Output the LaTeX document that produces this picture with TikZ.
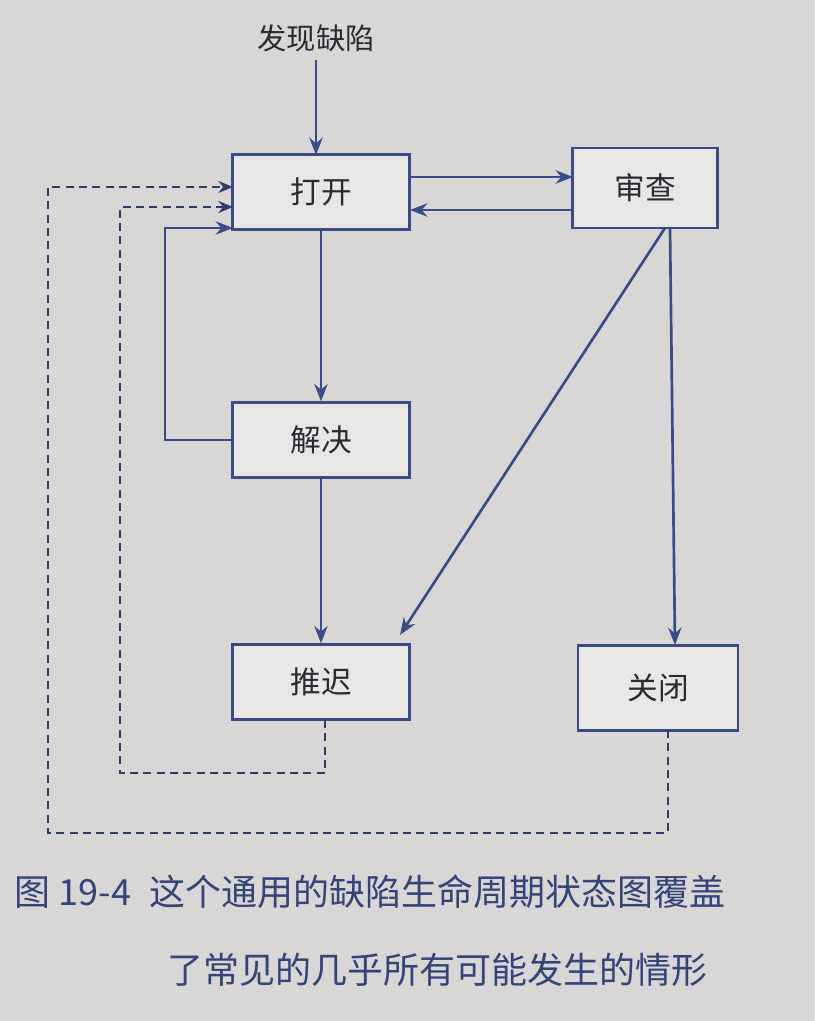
\documentclass[tikz,border=0pt]{standalone}
\usepackage{fontspec}
\setmainfont{Noto Sans CJK SC}
\usetikzlibrary{arrows.meta}
\definecolor{ln}{HTML}{3A4C86}
\definecolor{bg}{HTML}{D9D7D6}
\definecolor{tx}{HTML}{2A2A33}
\begin{document}
\begin{tikzpicture}[x=0.75pt,y=-0.75pt,
  box/.style={draw=ln,line width=2pt,fill=bg!60!white,text=tx,font=\fontsize{23}{26}\selectfont},
  arr/.style={draw=ln,line width=2pt,-{Stealth[length=13pt,width=10pt]}},
  dsh/.style={draw=ln!80!black,line width=1.7pt,dash pattern=on 6pt off 4pt}]
\fill[bg] (0,0) rectangle (815,1021);
\useasboundingbox (0,0) rectangle (815,1021);
\node[text=tx,font=\fontsize{22}{25}\selectfont] (f) at (316,38) {发现缺陷};
\node[box,minimum width=133pt,minimum height=56pt] (o) at (321,192) {打开};
\node[box,minimum width=109pt,minimum height=60pt] (r) at (645,188) {审查};
\node[box,minimum width=133pt,minimum height=56pt] (s) at (321,440) {解决};
\node[box,minimum width=133pt,minimum height=56pt] (d) at (321,682) {推迟};
\node[box,minimum width=120pt,minimum height=64pt] (c) at (658,688) {关闭};
\draw[arr] (316,60) -- (316,155);
\draw[arr] (410,177) -- (573,177);
\draw[arr] (573,210) -- (410,210);
\draw[arr] (o) -- (s);
\draw[arr] (s) -- (d);
\draw[arr] (s.west) -- (165,440) -- (165,228) -- (233,228);
\draw[arr] (665,228) -- (400,635);
\draw[arr] (670,228) -- (675,645);
\coordinate (a1) at (233,207);
\coordinate (a2) at (233,187);
\draw[dsh,-{Stealth[length=11pt,width=9pt]}] (325,720) -- (325,773) -- (120,773) -- (120,207) -- (a1);
\draw[dsh,-{Stealth[length=11pt,width=9pt]}] (668,730) -- (668,833) -- (48,833) -- (48,187) -- (a2);
\node[anchor=west,text=ln!90!black,font=\fontsize{27}{30}\selectfont] (cap1) at (10,892) {图 19-4\hspace{14pt}这个通用的缺陷生命周期状态图覆盖};
\node[anchor=west,text=ln!90!black,font=\fontsize{27}{30}\selectfont] (cap2) at (163,970) {了常见的几乎所有可能发生的情形};
\end{tikzpicture}
\end{document}
